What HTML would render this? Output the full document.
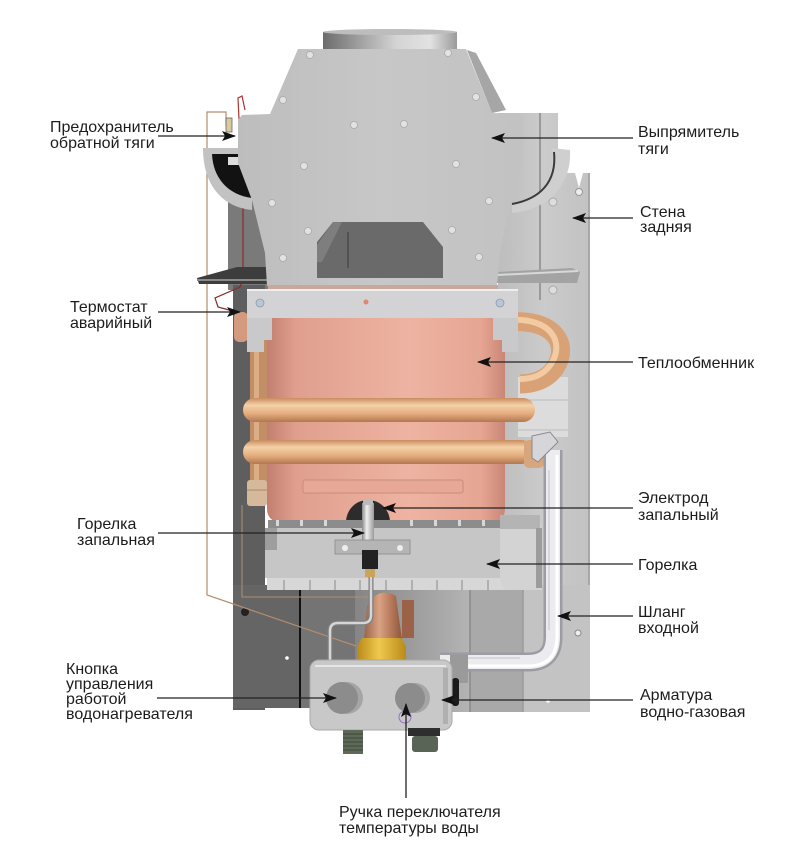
<!DOCTYPE html>
<html><head><meta charset="utf-8">
<style>
html,body{margin:0;padding:0;background:#fff;}
svg{display:block;}
text{font-family:"Liberation Sans",Arial,sans-serif;font-size:16px;fill:#1c1c1c;}
</style></head><body>
<svg width="795" height="862" viewBox="0 0 795 862" xmlns="http://www.w3.org/2000/svg">
<defs>
 <linearGradient id="flue" x1="0" x2="1" y1="0" y2="0">
  <stop offset="0" stop-color="#6c6c6c"/><stop offset="0.55" stop-color="#d4d4d4"/><stop offset="0.8" stop-color="#e2e2e2"/><stop offset="1" stop-color="#9a9a9a"/>
 </linearGradient>
 <linearGradient id="hood" x1="0" x2="1" y1="0" y2="0">
  <stop offset="0" stop-color="#bdbdbd"/><stop offset="0.5" stop-color="#c7c7c7"/><stop offset="1" stop-color="#c2c2c2"/>
 </linearGradient>
 <linearGradient id="hx" x1="0" x2="1">
  <stop offset="0" stop-color="#c27f70"/><stop offset="0.12" stop-color="#e09f8e"/><stop offset="0.6" stop-color="#eeb3a2"/><stop offset="0.9" stop-color="#e6a593"/><stop offset="1" stop-color="#c98676"/>
 </linearGradient>
 <linearGradient id="t1" gradientUnits="userSpaceOnUse" x1="0" y1="398" x2="0" y2="422">
  <stop offset="0" stop-color="#c98c5e"/><stop offset="0.3" stop-color="#f4d1a9"/><stop offset="0.65" stop-color="#e4ae7f"/><stop offset="1" stop-color="#b47650"/>
 </linearGradient>
 <linearGradient id="t2" gradientUnits="userSpaceOnUse" x1="0" y1="440" x2="0" y2="464">
  <stop offset="0" stop-color="#c98c5e"/><stop offset="0.3" stop-color="#f4d1a9"/><stop offset="0.65" stop-color="#e4ae7f"/><stop offset="1" stop-color="#b47650"/>
 </linearGradient>
 <linearGradient id="backmid" x1="0" x2="1">
  <stop offset="0" stop-color="#858585"/><stop offset="1" stop-color="#b4b4b4"/>
 </linearGradient>
 <linearGradient id="rightwall" x1="0" x2="1">
  <stop offset="0" stop-color="#bdbdbd"/><stop offset="0.5" stop-color="#cbcbcb"/><stop offset="1" stop-color="#c2c2c2"/>
 </linearGradient>
 <linearGradient id="copper" x1="0" x2="1">
  <stop offset="0" stop-color="#9c6248"/><stop offset="0.4" stop-color="#d9a383"/><stop offset="0.7" stop-color="#b97a5c"/><stop offset="1" stop-color="#8d563e"/>
 </linearGradient>
 <linearGradient id="brass" x1="0" x2="1">
  <stop offset="0" stop-color="#b98a18"/><stop offset="0.45" stop-color="#efc84e"/><stop offset="1" stop-color="#b98a18"/>
 </linearGradient>
 <linearGradient id="rod" x1="0" x2="1">
  <stop offset="0" stop-color="#8a8a8a"/><stop offset="0.4" stop-color="#efefef"/><stop offset="1" stop-color="#9a9a9a"/>
 </linearGradient>
 <marker id="ah" viewBox="0 -6 14 12" refX="13" refY="0" markerUnits="userSpaceOnUse" markerWidth="14" markerHeight="12" orient="auto">
  <path d="M0,-5 L14,0 L0,5 L3,0 Z" fill="#111"/>
 </marker>
</defs>

<!-- back walls -->
<rect x="228" y="195" width="40" height="95" fill="#7a7a7a"/>
<rect x="233" y="285" width="32" height="425" fill="#5e5e5e"/>
<polygon points="498,113 558,113 558,173 575,173 579,188 583,173 590,173 590,712 498,712" fill="url(#rightwall)"/>
<line x1="540" y1="113" x2="540" y2="300" stroke="#9a9a9a" stroke-width="2"/>
<line x1="589" y1="173" x2="589" y2="712" stroke="#a8a8a8" stroke-width="2"/>
<circle cx="579" cy="192" r="3.5" fill="#eee" stroke="#999"/>
<circle cx="553" cy="202" r="4" fill="#ddd" stroke="#aaa"/>
<circle cx="553" cy="290" r="4" fill="#ddd" stroke="#aaa"/>
<rect x="233" y="585" width="67" height="123" fill="#656565"/>
<rect x="300" y="585" width="55" height="123" fill="#747474"/>
<rect x="355" y="585" width="115" height="127" fill="url(#backmid)"/>
<rect x="470" y="585" width="53" height="127" fill="#a9a9a9"/>
<rect x="523" y="585" width="67" height="127" fill="#c3c3c3"/>
<line x1="300" y1="585" x2="300" y2="708" stroke="#111" stroke-width="2"/>
<line x1="470" y1="590" x2="470" y2="712" stroke="#8a8a8a" stroke-width="1.5"/>
<line x1="523" y1="590" x2="523" y2="712" stroke="#9a9a9a" stroke-width="1.5"/>
<circle cx="245" cy="612" r="4" fill="#222"/>
<circle cx="287" cy="658" r="1.8" fill="#fff"/>
<circle cx="578" cy="633" r="3" fill="#eee" stroke="#888"/>
<circle cx="548" cy="701" r="1.8" fill="#fff"/>

<!-- wires -->
<polyline points="226,126 226,112 207,112 207,595 356,646" fill="none" stroke="#b38d6d" stroke-width="1.2"/>
<polyline points="242,505 242,597 372,597" fill="none" stroke="#b38d6d" stroke-width="1"/>
<path d="M240,140 L238,98 L242,96 L245,110" fill="none" stroke="#a33" stroke-width="1.2"/>
<path d="M243,205 L243,280 L240,287 L215,298 L218,307 L240,313" fill="none" stroke="#8a2a2a" stroke-width="1.2"/>
<rect x="226" y="118" width="6" height="14" fill="#d9c9a0" stroke="#666" stroke-width="0.8"/>

<!-- ledges -->
<polygon points="197,278 237,267 268,267 268,284 199,284" fill="#3d3d3d"/>
<line x1="197" y1="280" x2="268" y2="280" stroke="#8a8a8a" stroke-width="2"/>
<polygon points="497,272 572,268 580,272 577,283 497,283" fill="#a3a3a3"/>
<line x1="497" y1="275" x2="578" y2="271" stroke="#d8d8d8" stroke-width="2"/>

<!-- bowls -->
<path d="M203,148 L240,148 L252,150 L252,210 C222,207 203,185 203,148 Z" fill="#c2c2c2"/>
<path d="M212,154 L252,154 L252,198 C228,195 213,178 212,154 Z" fill="#121212"/>
<rect x="228" y="157" width="12" height="8" fill="#ddd"/>
<path d="M552,148 L570,150 C572,185 548,210 512,213 L512,204 C540,200 556,180 552,148 Z" fill="#cfcfcf"/>
<path d="M554,152 C557,182 540,199 512,204" fill="none" stroke="#3a3a3a" stroke-width="2"/>

<!-- flue collar -->
<rect x="323" y="32" width="134" height="20" fill="url(#flue)"/>
<ellipse cx="390" cy="32" rx="67" ry="3" fill="#bdbdbd"/>

<!-- hood -->
<polygon points="467,50 476,53 506,110 492,113" fill="#a6a6a6"/>
<polygon points="298,49 466,49 492,113 518,114 523,119 523,162 510,205 500,252 497,286 267,286 265,253 252,200 238,163 238,120 242,115 270,114" fill="url(#hood)"/>
<polygon points="333,222 423,222 443,247 443,278 317,278 317,242" fill="#6a6a6a"/>
<polygon points="317,245 333,222 342,222 322,262 317,262" fill="#7e7e7e"/>
<line x1="348" y1="232" x2="348" y2="268" stroke="#3a3a3a" stroke-width="1"/>
<g fill="#e2e2e2" stroke="#a9a9a9" stroke-width="0.8">
 <circle cx="310" cy="55" r="3.5"/><circle cx="448" cy="53" r="3.5"/>
 <circle cx="283" cy="100" r="3.5"/><circle cx="476" cy="97" r="3.5"/>
 <circle cx="354" cy="125" r="3.5"/><circle cx="404" cy="124" r="3.5"/>
 <circle cx="304" cy="166" r="3.5"/><circle cx="456" cy="164" r="3.5"/>
 <circle cx="272" cy="203" r="3.5"/><circle cx="489" cy="201" r="3.5"/>
 <circle cx="308" cy="231" r="3.5"/><circle cx="452" cy="230" r="3.5"/>
 <circle cx="283" cy="258" r="3.5"/><circle cx="479" cy="257" r="3.5"/>
</g>
<rect x="268" y="285" width="230" height="5" fill="#c9a89c"/>

<!-- right pieces behind exchanger -->
<rect x="518" y="377" width="50" height="60" fill="#dcdcdc"/>
<line x1="518" y1="400" x2="568" y2="400" stroke="#bcbcbc"/>
<line x1="518" y1="430" x2="568" y2="430" stroke="#bcbcbc"/>
<path d="M508,322 C555,318 570,345 555,368 C547,380 532,384 520,384" fill="none" stroke="#d9a176" stroke-width="19"/>
<path d="M508,320 C552,317 565,343 551,364 C544,375 532,379 520,379" fill="none" stroke="#f2cba3" stroke-width="6"/>
<rect x="234" y="312" width="14" height="30" rx="5" fill="#d39a80"/>

<!-- left vertical pipe -->
<rect x="250" y="335" width="17" height="165" fill="#c28e66"/>
<rect x="254" y="335" width="5" height="165" fill="#dcae86"/>
<rect x="247" y="480" width="20" height="26" rx="3" fill="#d6b99a"/>
<line x1="247" y1="490" x2="267" y2="490" stroke="#a88c70"/>

<!-- exchanger -->
<path d="M267,318 L505,318 L505,508 Q505,522 491,522 L281,522 Q267,522 267,508 Z" fill="url(#hx)"/>
<rect x="303" y="480" width="160" height="13" rx="2" fill="#e7a897" stroke="#c98b7b" stroke-width="1"/>
<path d="M346,522 A22,22 0 0 1 390,522 Z" fill="#2c2c2c"/>

<!-- bracket -->
<rect x="247" y="289" width="271" height="29" fill="#d3d3d6"/>
<line x1="247" y1="290" x2="518" y2="290" stroke="#eeeeee" stroke-width="2"/>
<polygon points="247,318 272,318 272,340 264,340 264,352 247,352" fill="#c9c9cc"/>
<polygon points="493,318 518,318 518,352 502,352 502,340 493,340" fill="#c9c9cc"/>
<circle cx="260" cy="303" r="4" fill="#b8c6d6" stroke="#8f9aa8" stroke-width="0.8"/>
<circle cx="500" cy="303" r="4" fill="#b8c6d6" stroke="#8f9aa8" stroke-width="0.8"/>
<circle cx="366" cy="302" r="2.5" fill="#e0876c"/>

<!-- tubes -->
<rect x="243" y="398" width="292" height="24" rx="12" fill="url(#t1)"/>
<rect x="243" y="440" width="290" height="24" rx="12" fill="url(#t2)"/>
<rect x="524" y="440" width="20" height="28" rx="5" fill="#d8a67c"/>

<!-- hose -->
<path d="M553,450 L553,637 Q553,662 528,662 L440,662" fill="none" stroke="#9c9ca4" stroke-width="19"/>
<path d="M553,450 L553,637 Q553,662 528,662 L440,662" fill="none" stroke="#ececf0" stroke-width="14"/>
<path d="M557,455 L557,636 Q557,666 528,666 L445,666" fill="none" stroke="#ffffff" stroke-width="3"/>
<path d="M549,470 L549,630 M520,658 L460,658" fill="none" stroke="#cfcfd6" stroke-width="1.5"/>
<polygon points="532,436 550,432 558,442 548,452 538,462 532,458" fill="#d6d6da" stroke="#8a8a8a" stroke-width="1"/>

<!-- burner -->
<rect x="268" y="520" width="237" height="9" fill="#8c8c8c"/>
<g fill="#d8d8d8">
 <rect x="276" y="520" width="3" height="6"/><rect x="300" y="520" width="3" height="6"/><rect x="324" y="520" width="3" height="6"/>
 <rect x="410" y="520" width="3" height="6"/><rect x="434" y="520" width="3" height="6"/><rect x="458" y="520" width="3" height="6"/><rect x="482" y="520" width="3" height="6"/>
</g>
<rect x="265" y="528" width="242" height="50" fill="#c6c6c6"/>
<rect x="265" y="528" width="12" height="22" fill="#9e9e9e"/>
<rect x="267" y="578" width="238" height="12" fill="#d7d7d7"/>
<g stroke="#8a8a8a" stroke-width="1">
 <line x1="284" y1="580" x2="284" y2="590"/><line x1="310" y1="580" x2="310" y2="590"/><line x1="335" y1="580" x2="335" y2="590"/>
 <line x1="360" y1="580" x2="360" y2="590"/><line x1="386" y1="580" x2="386" y2="590"/><line x1="412" y1="580" x2="412" y2="590"/>
 <line x1="437" y1="580" x2="437" y2="590"/><line x1="462" y1="580" x2="462" y2="590"/><line x1="488" y1="580" x2="488" y2="590"/>
</g>
<polygon points="500,515 538,515 542,530 542,590 505,590 500,580" fill="#d3d3d3"/>
<rect x="500" y="515" width="40" height="14" fill="#b4b4b4"/>
<rect x="536" y="528" width="6" height="60" fill="#9c9c9c"/>

<!-- copper pipe, brass, gas tube -->
<path d="M364,640 L367,606 Q378,586 396,596 L402,640 Z" fill="url(#copper)"/>
<rect x="402" y="600" width="12" height="38" fill="#9b6248"/>
<polygon points="357,646 362,638 401,638 406,646 406,661 357,661" fill="url(#brass)"/>
<path d="M371,577 L371,615 Q371,623 363,623 L338,623 Q330,623 330,631 L330,661" fill="none" stroke="#7e7e7e" stroke-width="5"/>
<path d="M371,577 L371,615 Q371,623 363,623 L338,623 Q330,623 330,631 L330,661" fill="none" stroke="#d6d6d6" stroke-width="2.5"/>

<!-- electrode -->
<rect x="362" y="503" width="12" height="42" fill="url(#rod)"/>
<rect x="363" y="499" width="10" height="6" rx="2" fill="#bbb"/>
<rect x="335" y="540" width="75" height="14" fill="#b5b5b5" stroke="#8a8a8a" stroke-width="0.8"/>
<circle cx="345" cy="548" r="3" fill="#eee"/><circle cx="400" cy="548" r="3" fill="#eee"/>
<rect x="362" y="550" width="16" height="19" fill="#222"/>
<rect x="365" y="569" width="10" height="8" fill="#c9a45a"/>

<!-- control unit -->
<rect x="450" y="655" width="18" height="28" fill="#9a9a9a"/>
<rect x="452" y="678" width="7" height="28" rx="3" fill="#1a1a1a"/>
<rect x="310" y="660" width="142" height="70" rx="9" fill="#c8c8c8" stroke="#a9a9a9" stroke-width="1"/>
<path d="M315,666 L446,666" stroke="#e6e6e6" stroke-width="2"/>
<rect x="443" y="668" width="5" height="56" fill="#b0b0b0"/>
<circle cx="347" cy="698" r="16" fill="#a5a5a5"/>
<circle cx="342" cy="698" r="16" fill="#8c8c8c"/>
<circle cx="415" cy="698" r="15" fill="#a5a5a5"/>
<circle cx="410" cy="698" r="15" fill="#8c8c8c"/>
<circle cx="405" cy="717" r="6" fill="none" stroke="#9a70c8" stroke-width="1"/>

<!-- bottom fittings -->
<rect x="343" y="730" width="20" height="24" fill="#5d6a58"/>
<g stroke="#3e473b" stroke-width="1">
 <line x1="343" y1="734" x2="363" y2="734"/><line x1="343" y1="738" x2="363" y2="738"/><line x1="343" y1="742" x2="363" y2="742"/><line x1="343" y1="746" x2="363" y2="746"/><line x1="343" y1="750" x2="363" y2="750"/>
</g>
<rect x="408" y="728" width="32" height="8" fill="#2e2e2e"/>
<rect x="412" y="736" width="26" height="16" rx="3" fill="#5a6456"/>

<!-- leader lines -->
<g stroke="#222" stroke-width="1.3" fill="none" marker-end="url(#ah)">
 <line x1="158" y1="136" x2="235" y2="136"/>
 <line x1="158" y1="312" x2="240" y2="312"/>
 <line x1="158" y1="533" x2="364" y2="533"/>
 <line x1="157" y1="698" x2="336" y2="698"/>
 <line x1="633" y1="138" x2="492" y2="138"/>
 <line x1="633" y1="218" x2="573" y2="218"/>
 <line x1="633" y1="362" x2="478" y2="362"/>
 <line x1="633" y1="508" x2="383" y2="508"/>
 <line x1="633" y1="564" x2="487" y2="564"/>
 <line x1="633" y1="616" x2="558" y2="616"/>
 <line x1="633" y1="700" x2="442" y2="700"/>
 <line x1="406" y1="798" x2="406" y2="704"/>
</g>

<!-- labels -->
<text x="50" y="132">Предохранитель</text>
<text x="50" y="148">обратной тяги</text>
<text x="70" y="312">Термостат</text>
<text x="70" y="328">аварийный</text>
<text x="77" y="529">Горелка</text>
<text x="77" y="545">запальная</text>
<text x="66" y="674">Кнопка</text>
<text x="66" y="689">управления</text>
<text x="66" y="704">работой</text>
<text x="66" y="719">водонагревателя</text>

<text x="638" y="137">Выпрямитель</text>
<text x="638" y="154">тяги</text>
<text x="640" y="217">Стена</text>
<text x="640" y="232">задняя</text>
<text x="638" y="368">Теплообменник</text>
<text x="638" y="503">Электрод</text>
<text x="638" y="520">запальный</text>
<text x="638" y="570">Горелка</text>
<text x="638" y="617">Шланг</text>
<text x="638" y="633">входной</text>
<text x="640" y="700">Арматура</text>
<text x="640" y="717">водно-газовая</text>
<text x="339" y="817">Ручка переключателя</text>
<text x="339" y="833">температуры воды</text>
</svg>
</body></html>
